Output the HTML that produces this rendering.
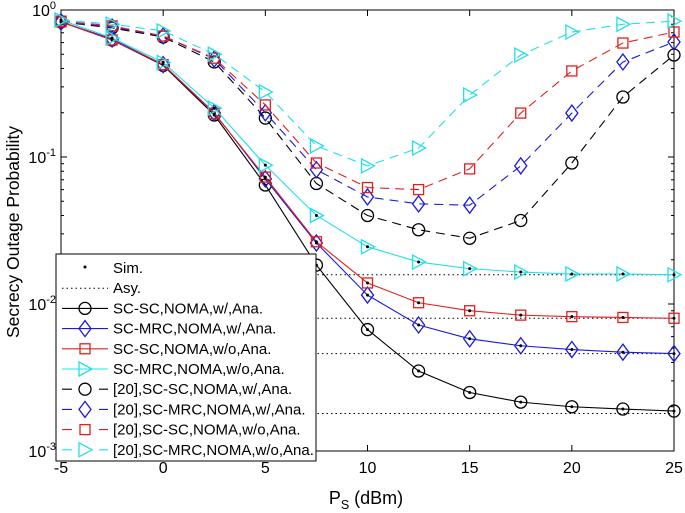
<!DOCTYPE html>
<html><head><meta charset="utf-8"><style>
body{margin:0;background:#fff;}
svg{display:block;font-family:"Liberation Sans",Arial,sans-serif;}
</style></head><body>
<svg id="chart" width="685" height="513" viewBox="0 0 685 513" xmlns="http://www.w3.org/2000/svg">
<g id="g"></g>
</svg>
<script>
const xs=[-5,-2.5,0,2.5,5,7.5,10,12.5,15,17.5,20,22.5,25];
const scScW=[0.83,0.625,0.42,0.193,0.0645,0.0184,0.0067,0.0035,0.0025,0.00215,0.002,0.00193,0.00187];
const scMrcW=[0.83,0.635,0.425,0.2,0.071,0.026,0.0115,0.0072,0.0058,0.0052,0.0049,0.0047,0.0046];
const scScWo=[0.83,0.625,0.425,0.198,0.073,0.0265,0.0139,0.0102,0.009,0.0084,0.0082,0.0081,0.0080];
const scMrcWo=[0.855,0.645,0.44,0.215,0.088,0.04,0.0245,0.0193,0.0174,0.0165,0.016,0.016,0.0158];
const ref20ScScW=[0.83,0.755,0.655,0.443,0.184,0.066,0.040,0.032,0.028,0.037,0.091,0.256,0.494];
const ref20ScMrcW=[0.83,0.766,0.666,0.464,0.2,0.082,0.0535,0.048,0.047,0.087,0.199,0.443,0.606];
const ref20ScScWo=[0.84,0.78,0.666,0.47,0.226,0.091,0.062,0.06,0.083,0.199,0.385,0.596,0.708];
const ref20ScMrcWo=[0.855,0.8,0.72,0.5,0.277,0.119,0.087,0.115,0.264,0.494,0.708,0.8,0.84];
const asyLevels=[0.0018,0.0046,0.0080,0.0158];
const xTicks=[-5,0,5,10,15,20,25];
const yTickExps=[0,-1,-2,-3];

const L=61,R=674,T=10,B=451;
const X=v=>L+(v+5)/30*(R-L);
const Y=v=>T+(-Math.log10(v))/3*(B-T);
const NS="http://www.w3.org/2000/svg";
const g=document.getElementById('g');
function el(t,a,p){const e=document.createElementNS(NS,t);for(const k in a)e.setAttribute(k,a[k]);(p||g).appendChild(e);return e;}

let fr=el('rect',{x:L,y:T,width:R-L,height:B-T,fill:'none',stroke:'#000','stroke-width':1});


xTicks.forEach(v=>{
  el('line',{x1:X(v),x2:X(v),y1:B,y2:B-6,stroke:'#000'});
  el('line',{x1:X(v),x2:X(v),y1:T,y2:T+6,stroke:'#000'});
  const t=el('text',{x:X(v),y:B+22,'font-size':16,'text-anchor':'middle'});t.textContent=v;
  
  
});
yTickExps.forEach(e=>{
  const y=Y(Math.pow(10,e));
  el('line',{x1:L,x2:L+6,y1:y,y2:y,stroke:'#000'});
  el('line',{x1:R,x2:R-6,y1:y,y2:y,stroke:'#000'});
  const t=el('text',{x:L-5,y:y+6,'font-size':16,'text-anchor':'end'});
  
  
  t.innerHTML='10<tspan dy="-7" font-size="11">'+e+'</tspan>';
  if(e>-3){for(let m=2;m<10;m++){const yy=Y(m*Math.pow(10,e-1));
    el('line',{x1:L,x2:L+3,y1:yy,y2:yy,stroke:'#000'});
    el('line',{x1:R,x2:R-3,y1:yy,y2:yy,stroke:'#000'});}}
});
asyLevels.forEach(v=>{const a=el('line',{x1:L,x2:R,y1:Y(v),y2:Y(v),stroke:'#000','stroke-dasharray':'1.5 3'});
  
  });

function marker(type,x,y,c,parent){
  const p=parent||g;
  if(type==='o')return el('circle',{cx:x,cy:y,r:6,fill:'none',stroke:c,'stroke-width':1.3},p);
  if(type==='d')return el('polygon',{points:`${x},${y-8} ${x+6},${y} ${x},${y+8} ${x-6},${y}`,fill:'none',stroke:c,'stroke-width':1.3},p);
  if(type==='s')return el('rect',{x:x-5,y:y-5,width:10,height:10,fill:'none',stroke:c,'stroke-width':1.3},p);
  return el('polygon',{points:`${x-6},${y-7} ${x+7},${y} ${x-6},${y+7}`,fill:'none',stroke:c,'stroke-width':1.3},p);
}
const series=[
 {d:ref20ScScW,c:'#000',m:'o',dash:'9 6',n:'ref20-sc-sc-w'},
 {d:ref20ScMrcW,c:'#1a1adb',m:'d',dash:'9 6',n:'ref20-sc-mrc-w'},
 {d:ref20ScScWo,c:'#e0201f',m:'s',dash:'9 6',n:'ref20-sc-sc-wo'},
 {d:ref20ScMrcWo,c:'#22e0e6',m:'t',dash:'9 6',n:'ref20-sc-mrc-wo'},
 {d:scScW,c:'#000',m:'o',dash:null,n:'sc-sc-w',sim:1},
 {d:scMrcW,c:'#1a1adb',m:'d',dash:null,n:'sc-mrc-w',sim:1},
 {d:scScWo,c:'#e0201f',m:'s',dash:null,n:'sc-sc-wo',sim:1},
 {d:scMrcWo,c:'#22e0e6',m:'t',dash:null,n:'sc-mrc-wo',sim:1},
];
series.forEach(s=>{
  const gg=el('g',{});
  
  
  const pts=xs.map((x,i)=>X(x)+','+Y(s.d[i])).join(' ');
  const a={points:pts,fill:'none',stroke:s.c,'stroke-width':1.1};
  if(s.dash)a['stroke-dasharray']=s.dash;
  el('polyline',a,gg);
  xs.forEach((x,i)=>{const mk=marker(s.m,X(x),Y(s.d[i]),s.c,gg);
    
    
    if(s.sim)el('circle',{cx:X(x),cy:Y(s.d[i]),r:1.5,fill:'#000'},gg);});
});
const yl=el('text',{x:0,y:0,'font-size':17.5,'text-anchor':'middle',transform:'translate(19,232) rotate(-90)'});
yl.textContent='Secrecy Outage Probability';


const xl=el('text',{x:366,y:504,'font-size':18,'text-anchor':'middle'});
xl.innerHTML='P<tspan dy="5" font-size="12.5">S</tspan><tspan dy="-5"> (dBm)</tspan>';


const lg=el('g',{});


el('rect',{x:56,y:254,width:260,height:207,fill:'#fff',stroke:'#000','stroke-width':1},lg);
const labels=['Sim.','Asy.','SC-SC,NOMA,w/,Ana.','SC-MRC,NOMA,w/,Ana.','SC-SC,NOMA,w/o,Ana.','SC-MRC,NOMA,w/o,Ana.','[20],SC-SC,NOMA,w/,Ana.','[20],SC-MRC,NOMA,w/,Ana.','[20],SC-SC,NOMA,w/o,Ana.','[20],SC-MRC,NOMA,w/o,Ana.'];
const order=[null,null,4,5,6,7,0,1,2,3];
labels.forEach((t,i)=>{
  const y=268+i*20.2;
  const e=el('g',{},lg);
  
  
  if(i===0)el('circle',{cx:85,cy:y-1,r:1.5,fill:'#000'},e);
  else if(i===1)el('line',{x1:62,x2:108,y1:y,y2:y,stroke:'#000','stroke-dasharray':'1.5 3'},e);
  else{const s=series[order[i]];
    const a={x1:62,x2:108,y1:y,y2:y,stroke:s.c,'stroke-width':1.1};
    if(s.dash)a['stroke-dasharray']='10 27';
    el('line',a,e);marker(s.m,85,y,s.c,e);}
  const tx=el('text',{x:113,y:y+5,'font-size':15},e);tx.textContent=t;
});
</script>
</body></html>
